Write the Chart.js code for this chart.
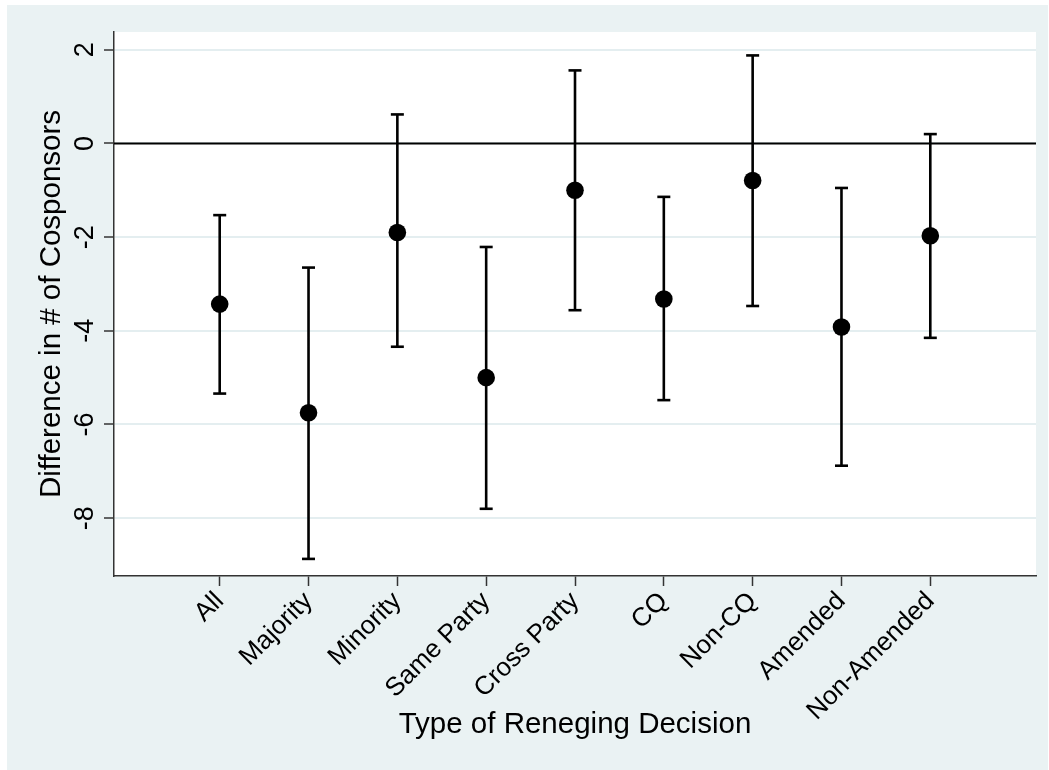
<!DOCTYPE html>
<html><head><meta charset="utf-8">
<script src="https://cdn.jsdelivr.net/npm/chart.js@4.4.1/dist/chart.umd.min.js"></script>
<style>html,body{margin:0;padding:0;background:#fff;}#wrap{width:1049px;height:770px;}</style>
</head><body><div id="wrap"><canvas id="c" width="1049" height="770"></canvas></div>
<script>
const categories = ['All','Majority','Minority','Same Party','Cross Party','CQ','Non-CQ','Amended','Non-Amended'];
const xPositions = [1,2,3,4,5,6,7,8,9];
const estimates = [-3.43, -5.75, -1.90, -5.00, -1.00, -3.32, -0.79, -3.92, -1.97];
const lowerCI   = [-5.34, -8.87, -4.34, -7.80, -3.56, -5.48, -3.47, -6.88, -4.15];
const upperCI   = [-1.53, -2.65,  0.62, -2.21,  1.56, -1.14,  1.88, -0.95,  0.20];
const yTickValues = [2, 0, -2, -4, -6, -8];
const yTickLabels = ['2', '0', '-2', '-4', '-6', '-8'];
const xAxisTitle = 'Type of Reneging Decision';
const yAxisTitle = 'Difference in # of Cosponsors';

const FONT = "'Liberation Sans', Arial, Helvetica, sans-serif";
const BG = '#eaf2f3';
const AXIS = '#333333';

const barData = [];
xPositions.forEach((x, i) => {
  barData.push({x: x, y: lowerCI[i]});
  barData.push({x: x, y: upperCI[i]});
  barData.push({x: x, y: null});
});
const capData = [];
xPositions.forEach((x, i) => {
  capData.push({x: x, y: lowerCI[i]});
  capData.push({x: x, y: upperCI[i]});
});
const pointData = xPositions.map((x, i) => ({x: x, y: estimates[i]}));

const bgPlugin = {
  id: 'bg',
  beforeDraw(chart) {
    const {ctx, chartArea: a} = chart;
    ctx.save();
    ctx.fillStyle = '#ffffff';
    ctx.fillRect(0, 0, chart.width, chart.height);
    ctx.fillStyle = BG;
    ctx.fillRect(7, 5, 1041, 765);
    ctx.fillStyle = '#ffffff';
    ctx.fillRect(a.left, a.top, a.right - a.left, a.bottom - a.top);
    ctx.restore();
  }
};
const zeroLine = {
  id: 'zeroLine',
  beforeDatasetsDraw(chart) {
    const {ctx, chartArea: a, scales: {y}} = chart;
    const py = y.getPixelForValue(0);
    ctx.save();
    ctx.strokeStyle = '#000';
    ctx.lineWidth = 2;
    ctx.beginPath();
    ctx.moveTo(a.left, py);
    ctx.lineTo(a.right, py);
    ctx.stroke();
    ctx.restore();
  }
};
const yLabels = {
  id: 'yLabels',
  afterDraw(chart) {
    const {ctx, scales: {y}} = chart;
    ctx.save();
    ctx.fillStyle = '#000';
    ctx.font = '27px ' + FONT;
    ctx.textAlign = 'center';
    ctx.textBaseline = 'alphabetic';
    yTickValues.forEach((v, i) => {
      const py = y.getPixelForValue(v);
      ctx.save();
      ctx.translate(93, py);
      ctx.rotate(-Math.PI / 2);
      ctx.fillText(yTickLabels[i], 0, 0);
      ctx.restore();
    });
    ctx.restore();
  }
};

new Chart(document.getElementById('c'), {
  type: 'scatter',
  data: {
    datasets: [
      {
        data: barData, showLine: true, spanGaps: false, pointRadius: 0,
        borderColor: '#000', borderWidth: 2.6, borderCapStyle: 'butt', order: 3
      },
      {
        data: capData, pointStyle: 'line', pointRadius: 6.5, pointBorderWidth: 2.6,
        borderColor: '#000', backgroundColor: '#000', order: 2
      },
      {
        data: pointData, pointStyle: 'circle', pointRadius: 8.8, pointBorderWidth: 0,
        borderColor: '#000', backgroundColor: '#000', order: 1
      }
    ]
  },
  options: {
    responsive: false,
    animation: false,
    events: [],
    devicePixelRatio: 1,
    layout: {padding: {left: 7, top: 32, right: 13, bottom: 0}},
    plugins: {legend: {display: false}, tooltip: {enabled: false}},
    scales: {
      x: {
        type: 'linear', min: -0.19, max: 10.19,
        afterBuildTicks(s) { s.ticks = xPositions.map(v => ({value: v})); },
        afterFit(s) { s.height = 194; },
        grid: {display: true, drawOnChartArea: false, drawTicks: true, tickLength: 10, tickColor: AXIS, tickWidth: 1.5},
        border: {display: true, color: AXIS, width: 1.5},
        ticks: {
          autoSkip: false, maxRotation: 45, minRotation: 45, padding: 0, color: '#000',
          font: {family: FONT, size: 26},
          callback: (v) => categories[xPositions.indexOf(v)]
        },
        title: {display: true, text: xAxisTitle, color: '#000', font: {family: FONT, size: 29.5}, padding: {top: 0, bottom: 27}}
      },
      y: {
        type: 'linear', min: -9.235, max: 2.38,
        afterBuildTicks(s) { s.ticks = yTickValues.map(v => ({value: v})); },
        afterFit(s) { s.width = 107; },
        grid: {display: true, drawOnChartArea: true, drawTicks: true, tickLength: 10, color: '#e4eef0', lineWidth: 2, tickColor: AXIS, tickWidth: 1.5},
        border: {display: true, color: AXIS, width: 1.5},
        ticks: {display: false},
        title: {display: true, text: yAxisTitle, color: '#000', font: {family: FONT, size: 29.5}, padding: {top: 27, bottom: 0}}
      }
    }
  },
  plugins: [bgPlugin, zeroLine, yLabels]
});
</script>
</body></html>
